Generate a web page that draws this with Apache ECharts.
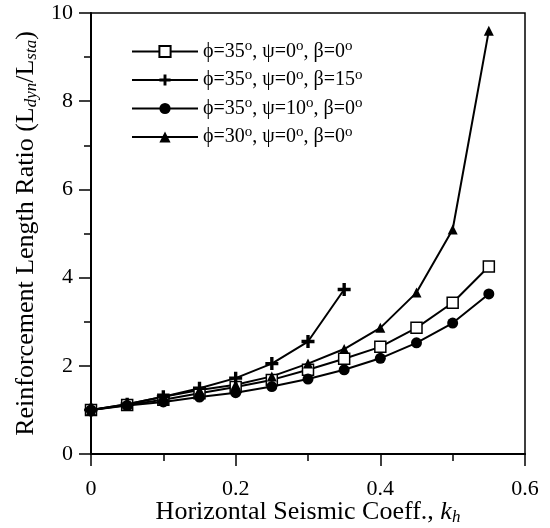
<!DOCTYPE html>
<html>
<head>
<meta charset="utf-8">
<script src="https://cdn.jsdelivr.net/npm/echarts@6/dist/echarts.min.js"></script>
<style>html,body{margin:0;padding:0;background:#fff;}#c{width:550px;height:528px;}</style>
</head>
<body>
<div id="c"></div>
<script>
var kh = [0, 0.05, 0.1, 0.15, 0.2, 0.25, 0.3, 0.35, 0.4, 0.45, 0.5, 0.55];
var khPlus = [0, 0.05, 0.1, 0.15, 0.2, 0.25, 0.3, 0.35];
var names = [
  'ϕ=35°, ψ=0°, β=0°',
  'ϕ=35°, ψ=0°, β=15°',
  'ϕ=35°, ψ=10°, β=0°',
  'ϕ=30°, ψ=0°, β=0°'
];
var sSquare   = [1.0, 1.11, 1.23, 1.38, 1.52, 1.68, 1.91, 2.16, 2.43, 2.86, 3.43, 4.25];
var sPlus     = [1.0, 1.13, 1.30, 1.49, 1.72, 2.05, 2.55, 3.73];
var sCircle   = [1.0, 1.10, 1.18, 1.29, 1.39, 1.53, 1.70, 1.91, 2.17, 2.52, 2.97, 3.63];
var sTriangle = [1.0, 1.13, 1.30, 1.45, 1.57, 1.76, 2.05, 2.38, 2.86, 3.66, 5.09, 9.60];
var xTicks = [0, 0.2, 0.4, 0.6];
var yTicks = [0, 2, 4, 6, 8, 10];

function pairs(xs, ys) { return xs.map(function (x, i) { return [x, ys[i]]; }); }

var FONT = '"Liberation Serif", "Times New Roman", serif';
var plusPath = 'path://M-1.3,-5 L1.3,-5 L1.3,-1.3 L5,-1.3 L5,1.3 L1.3,1.3 L1.3,5 L-1.3,5 L-1.3,1.3 L-5,1.3 L-5,-1.3 L-1.3,-1.3 Z';

var base = { type: 'line', lineStyle: { color: '#000', width: 2 }, itemStyle: { color: '#000' }, animation: false, z: 3 };

function legendFmt(name) {
  return name.split('°').map(function (p, i, arr) {
    return '{n|' + p + '}' + (i < arr.length - 1 ? '{o|o}' : '');
  }).join('');
}

var chart = echarts.init(document.getElementById('c'), null, { renderer: 'canvas' });
chart.setOption({
  backgroundColor: '#fff',
  animation: false,
  grid: { left: 91, right: 25, top: 13, bottom: 74, containLabel: false, outerBoundsMode: 'none',
    show: true, borderColor: '#000', borderWidth: 1.5, backgroundColor: 'transparent' },
  legend: {
    orient: 'vertical', left: 126, top: 34, itemGap: 6, itemWidth: 66, itemHeight: 14,
    formatter: legendFmt,
    textStyle: { fontFamily: FONT, fontSize: 20, color: '#000', rich: {
      n: { fontFamily: FONT, fontSize: 20, color: '#000' },
      o: { fontFamily: FONT, fontSize: 15, color: '#000', padding: [0, 0, 10, 0] }
    } },
    data: names
  },
  xAxis: {
    type: 'value', min: 0, max: 0.6, interval: 0.2,
    axisLine: { show: true, onZero: false, lineStyle: { color: '#000', width: 2 } },
    axisTick: { show: true, inside: false, length: 12, lineStyle: { color: '#000', width: 1.5 } },
    minorTick: { show: true, splitNumber: 2, length: 7, lineStyle: { color: '#000', width: 1.5 } },
    splitLine: { show: false },
    axisLabel: { fontFamily: FONT, fontSize: 22, color: '#000', margin: 24,
      formatter: function (v) { return v === 0 ? '0' : v.toFixed(1); } },
    name: '{n|Horizontal Seismic Coeff., }{i|k}{s|h}',
    nameLocation: 'middle', nameGap: 44, nameMoveOverlap: false,
    nameTextStyle: { rich: {
      n: { fontFamily: FONT, fontSize: 26, color: '#000' },
      i: { fontFamily: FONT, fontSize: 26, fontStyle: 'italic', color: '#000' },
      s: { fontFamily: FONT, fontSize: 17, fontStyle: 'italic', color: '#000', padding: [11, 0, 0, 0] }
    } }
  },
  yAxis: {
    type: 'value', min: 0, max: 10, interval: 2,
    axisLine: { show: true, onZero: false, lineStyle: { color: '#000', width: 2 } },
    axisTick: { show: true, inside: false, length: 12, lineStyle: { color: '#000', width: 1.5 } },
    minorTick: { show: true, splitNumber: 2, length: 7, lineStyle: { color: '#000', width: 1.5 } },
    splitLine: { show: false },
    axisLabel: { fontFamily: FONT, fontSize: 22, color: '#000', margin: 18 },
    name: '{n|Reinforcement Length Ratio (L}{s|dyn}{n|/L}{s|sta}{n|)}',
    nameLocation: 'middle', nameGap: 48, nameRotate: 90,
    nameTextStyle: { rich: {
      n: { fontFamily: FONT, fontSize: 26, color: '#000' },
      s: { fontFamily: FONT, fontSize: 17, fontStyle: 'italic', color: '#000', padding: [11, 0, 0, 0] }
    } }
  },
  series: [
    Object.assign({}, base, { name: names[0], data: pairs(kh, sSquare), symbol: 'rect', symbolSize: 11,
      itemStyle: { color: '#fff', borderColor: '#000', borderWidth: 1.5 } }),
    Object.assign({}, base, { name: names[1], data: pairs(khPlus, sPlus), symbol: plusPath, symbolSize: 13 }),
    Object.assign({}, base, { name: names[2], data: pairs(kh, sCircle), symbol: 'circle', symbolSize: 11 }),
    Object.assign({}, base, { name: names[3], data: pairs(kh, sTriangle), symbol: 'triangle', symbolSize: 10 })
  ]
});
</script>
</body>
</html>
